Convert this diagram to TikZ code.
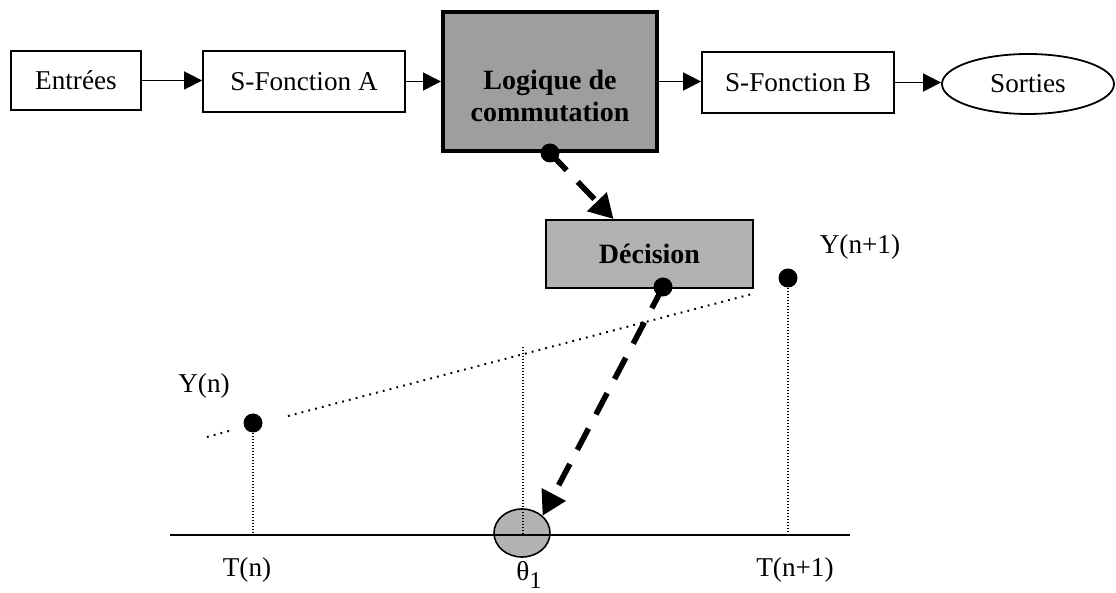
\documentclass[tikz,border=0pt]{standalone}
\usepackage{fontspec}
\setmainfont{Liberation Serif}
\usetikzlibrary{arrows.meta,shapes.geometric}

\begin{document}
\begin{tikzpicture}[x=0.5pt,y=-0.5pt,
  font=\fontsize{13.6pt}{16pt}\selectfont,
  block/.style={draw, line width=0.9pt, inner sep=0pt},
  boldtext/.style={font=\bfseries\fontsize{14pt}{16pt}\selectfont},
  flow/.style={line width=0.8pt, -{Triangle[length=9pt,width=9pt]}},
  bigdash/.style={line width=2.8pt, dash pattern=on 12pt off 8pt,
    -{Triangle[length=12pt,width=13pt]}},
  dot/.style={circle, fill=black, inner sep=0pt, minimum size=9.5pt},
  stem/.style={line width=0.6pt, dash pattern=on 0.6pt off 0.9pt},
  trend/.style={line width=1pt, dash pattern=on 0.9pt off 2.6pt},
  lbl/.style={inner sep=0pt}]

\useasboundingbox (0,0) rectangle (1116,593);

% ---- processing chain ----
\node[block, minimum width=65pt, minimum height=29.5pt] (ent) at (76,80.5) {Entrées};
\node[block, minimum width=101pt, minimum height=30.5pt] (sfa) at (304,81.5) {S-Fonction A};
\node[draw, line width=2.2pt, fill=black!38, minimum width=106.8pt,
      minimum height=69.3pt, inner sep=0pt] (logic) at (550,81.5) {};
\node[boldtext, align=center, lbl] (logictext) at (550,96) {Logique de\\commutation};
\node[block, minimum width=96pt, minimum height=30.5pt] (sfb) at (798,82.5) {S-Fonction B};
\node[ellipse, draw, line width=0.9pt, minimum width=86pt, minimum height=30pt,
      inner sep=0pt] (out) at (1028,84) {Sorties};

\draw[flow] (ent.east) -- (ent.east -| sfa.west);
\draw[flow] (sfa.east) -- (sfa.east -| logic.west);
\draw[flow] (logic.east) -- (logic.east -| sfb.west);
\draw[flow] (sfb.east) -- (sfb.east -| out.west);

% ---- decision block ----
\node[draw, line width=1pt, fill=black!30, minimum width=103.5pt, minimum height=34pt,
      inner sep=0pt, boldtext] (dec) at (649.5,254) {Décision};

% ---- time axis and samples ----
\node[ellipse, draw, line width=0.8pt, fill=black!30, minimum width=28pt,
      minimum height=24pt, inner sep=0pt] (theta) at (522,533) {};
\coordinate (baseL) at (170,535);
\coordinate (baseR) at (850,535);
\draw[line width=1.1pt] (baseL) -- (baseR);

\node[dot] (yn) at (253,423) {};
\node[dot] (yn1) at (788,278) {};
\coordinate (thtop) at (523,347);
\draw[stem] (yn) -- (yn |- baseL);
\draw[stem] (yn1) -- (yn1 |- baseL);
\draw[stem] (thtop) -- (thtop |- baseL);

% interpolation between the two samples
\coordinate (trA) at (207,437);
\coordinate (trB) at (229,431);
\coordinate (trC) at (288,416);
\coordinate (trD) at (752,294);
\draw[trend] (trA) -- (trB) (trC) -- (trD);

% ---- decision links ----
\node[dot] (ldot) at (logic.south) {};
\node[dot] (ddot) at (663,287) {};
\draw[bigdash] (ldot.center) -- ([xshift=-18pt]dec.north);
\draw[bigdash] (ddot.center) -- (theta.40);

% ---- labels ----
\node[lbl] (ynl) at (204,386) {Y(n)};
\node[lbl] (yn1l) at (860,247) {Y(n+1)};
\node[lbl] (tn) at (247,570) {T(n)};
\node[lbl] (tn1) at (795,570) {T(n+1)};
\node[lbl] (thl) at (529,575) {θ\raisebox{-0.6ex}{\fontsize{12pt}{12pt}\selectfont 1}};
\end{tikzpicture}
\end{document}
